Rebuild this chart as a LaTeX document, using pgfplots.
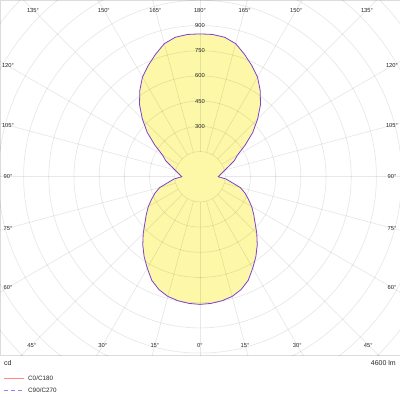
\documentclass[border=0pt]{standalone}
\usepackage{fontspec}
\setmainfont{Liberation Sans}
\usepackage{pgfplots}
\usepackage{pgfplotstable}
\pgfplotsset{compat=1.18}

\definecolor{lobefill}{RGB}{253,248,168}
\definecolor{lobeline}{RGB}{125,65,215}
\definecolor{legred}{RGB}{255,135,135}
\definecolor{legblue}{RGB}{135,135,255}
\definecolor{framegray}{RGB}{220,220,220}

% luminous intensity (cd) against gamma angle, C0/C180 = C90/C270
\pgfplotstableread{
g I
0 760
5 757
10 750
15 738
20 715
25 680
30 628
35 580
40 530
45 478
50 428
55 390
60 355
65 318
70 285
75 248
80 190
85 155
90 108
95 120
100 134
105 154
110 183
115 225
120 258
125 328
130 410
135 485
140 560
145 625
150 685
155 730
160 775
165 820
170 843
175 850
180 850
}\ldt

\newcommand\angfont{\fontsize{5.8pt}{7pt}\selectfont}

\begin{document}
\begin{tikzpicture}
\useasboundingbox (0,0) rectangle (400pt,-400pt);
\begin{axis}[
    at={(0,0)}, anchor=north west,
    scale only axis,
    x=0.168pt, y=0.168pt,
    xmin=-1190.5, xmax=1190.5,
    ymin=-1061.3, ymax=1051.8,
    xtick=\empty, ytick=\empty,
    axis line style={draw=framegray, line width=0.9pt},
]
% filled lobes, right and left halves
\addplot[draw=lobefill, fill=lobefill, line width=0.6pt, data cs=polar]
    table[x expr=\thisrow{g}-90, y=I]{\ldt} -- cycle;
\addplot[draw=lobefill, fill=lobefill, line width=0.6pt, data cs=polar]
    table[x expr=270-\thisrow{g}, y=I]{\ldt} -- cycle;

% polar grid: rings every 150 cd, rays every 15 deg
\pgfplotsinvokeforeach{1,...,11}{
    \draw[draw=black, draw opacity=0.09, line width=0.7pt] (axis cs:0,0) circle[radius=#1*25.2pt];
}
\pgfplotsinvokeforeach{0,15,...,345}{
    \draw[draw=black, draw opacity=0.09, line width=0.7pt] (axis cs:0,0) ++(#1:25.2pt) -- ++(#1:320pt);
}

% outline
\addplot[draw=lobeline, line width=0.8pt, data cs=polar]
    table[x expr=\thisrow{g}-90, y=I]{\ldt};
\addplot[draw=lobeline, line width=0.8pt, data cs=polar]
    table[x expr=270-\thisrow{g}, y=I]{\ldt};
\end{axis}

% ring values
\begin{scope}[every node/.style={font=\angfont, text=black!85, inner sep=0pt}]
\node at (200pt,-126.3pt) {300};
\node at (200pt,-101.1pt) {450};
\node at (200pt,-75.9pt) {600};
\node at (200pt,-50.7pt) {750};
\node at (200pt,-25.5pt) {900};

% angle labels
\node at (33pt,-10pt) {135°};
\node at (103.8pt,-10pt) {150°};
\node at (155.3pt,-10pt) {165°};
\node at (200pt,-10pt) {180°};
\node at (244.7pt,-10pt) {165°};
\node at (296.2pt,-10pt) {150°};
\node at (367pt,-10pt) {135°};

\node at (8pt,-65.8pt) {120°};
\node at (8pt,-125.3pt) {105°};
\node at (8pt,-176.7pt) {90°};
\node at (8pt,-228.1pt) {75°};
\node at (8pt,-287.6pt) {60°};
\node at (392pt,-65.8pt) {120°};
\node at (392pt,-125.3pt) {105°};
\node at (392pt,-176.7pt) {90°};
\node at (392pt,-228.1pt) {75°};
\node at (392pt,-287.6pt) {60°};

\node at (31.7pt,-345pt) {45°};
\node at (102.8pt,-345pt) {30°};
\node at (154.9pt,-345pt) {15°};
\node at (200pt,-345pt) {0°};
\node at (245.1pt,-345pt) {15°};
\node at (297.2pt,-345pt) {30°};
\node at (368.3pt,-345pt) {45°};
\end{scope}

% footer and legend
\node[anchor=west, inner sep=0pt, font=\fontsize{7pt}{8pt}\selectfont, text=black!85] at (4pt,-362.5pt) {cd};
\node[anchor=east, inner sep=0pt, font=\fontsize{7pt}{8pt}\selectfont, text=black!85] at (396pt,-362.5pt) {4600 lm};
\draw[legred, line width=1pt] (4pt,-378.5pt) -- (24pt,-378.5pt);
\node[anchor=west, inner sep=0pt, font=\fontsize{6.3pt}{7pt}\selectfont, text=black!85] at (28pt,-378.5pt) {C0/C180};
\draw[legblue, line width=1pt, dash pattern=on 4pt off 3pt] (4pt,-390.7pt) -- (24pt,-390.7pt);
\node[anchor=west, inner sep=0pt, font=\fontsize{6.3pt}{7pt}\selectfont, text=black!85] at (28pt,-390.7pt) {C90/C270};
\end{tikzpicture}
\end{document}
